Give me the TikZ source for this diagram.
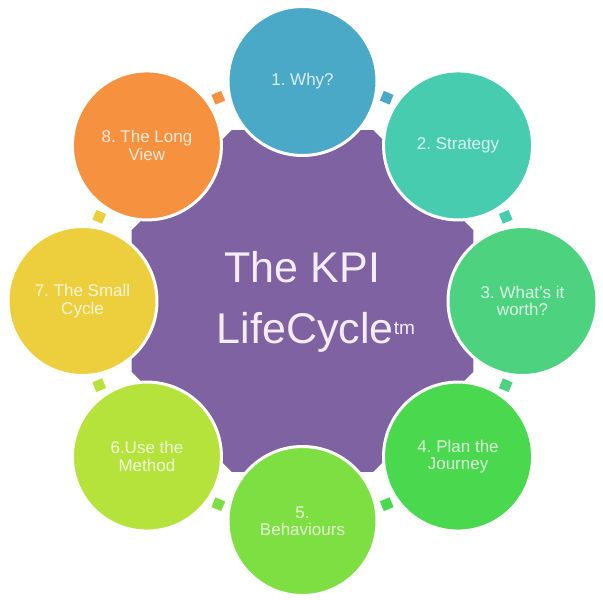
\documentclass[tikz,border=0pt]{standalone}
\usepackage{fontspec}
\setmainfont{Liberation Sans}
\frenchspacing
\definecolor{cOne}{HTML}{4BA9C8}
\definecolor{cTwo}{HTML}{48CCB0}
\definecolor{cThree}{HTML}{4DD27F}
\definecolor{cFour}{HTML}{4AD84E}
\definecolor{cFive}{HTML}{7EDF42}
\definecolor{cSix}{HTML}{B5E33C}
\definecolor{cSeven}{HTML}{EDCF3E}
\definecolor{cEight}{HTML}{F6923F}
\definecolor{cPurple}{HTML}{7E62A1}
\definecolor{cCenterText}{HTML}{F4ECF6}
\tikzset{
  stage/.style={circle, minimum size=149pt, inner sep=0pt, outer sep=0pt,
    fill=#1, draw=white, line width=3pt, align=center,
    text=white!80!#1, font=\fontsize{17}{17.5}\selectfont},
  link/.style={rectangle, minimum size=10.5pt, inner sep=0pt, fill=#1},
  bigtext/.style={text=cCenterText, inner sep=0pt, font=\fontsize{43}{43}\selectfont}
}
\begin{document}
\begin{tikzpicture}[x=1pt,y=1pt]
\useasboundingbox (-302.5,-299) rectangle (300.5,301);
\coordinate (C) at (0,0);
% central octagon
\fill[cPurple] (22.5:185) -- (67.5:185) -- (112.5:185) -- (157.5:185)
  -- (202.5:185) -- (247.5:185) -- (292.5:185) -- (337.5:185) -- cycle;
% connector squares
\node[link=cOne,   rotate=67.5]  (l1) at (67.5:220) {};
\node[link=cTwo,   rotate=22.5]  (l2) at (22.5:220) {};
\node[link=cThree, rotate=-22.5] (l3) at (-22.5:220) {};
\node[link=cFour,  rotate=-67.5] (l4) at (-67.5:220) {};
\node[link=cFive,  rotate=-112.5] (l5) at (-112.5:220) {};
\node[link=cSix,   rotate=-157.5] (l6) at (-157.5:220) {};
\node[link=cSeven, rotate=157.5] (l7) at (157.5:220) {};
\node[link=cEight, rotate=112.5] (l8) at (112.5:220) {};
% stage circles
\node[stage=cOne]   (s1) at (90:220)  {1. Why?};
\node[stage=cTwo]   (s2) at (45:220)  {2. Strategy};
\node[stage=cThree] (s3) at (0:220)   {3. What's it\\worth?};
\node[stage=cFour]  (s4) at (-45:220) {4. Plan the\\Journey};
\node[stage=cFive]  (s5) at (-90:220) {5.\\Behaviours};
\node[stage=cSix]   (s6) at (-135:220) {6.Use the\\Method};
\node[stage=cSeven] (s7) at (180:220) {7. The Small\\Cycle};
\node[stage=cEight] (s8) at (135:220) {8. The Long\\View};
% centre title
\node[bigtext, anchor=base west] (t1) at (-78,19) {The KPI};
\node[bigtext, anchor=base west] (t2) at (-86,-42) {LifeCycle};
\node[text=cCenterText, inner sep=0pt, anchor=base west,
  font=\fontsize{19}{19}\selectfont] (tm) at (t2.base east) [yshift=9pt] {tm};
\end{tikzpicture}
\end{document}
